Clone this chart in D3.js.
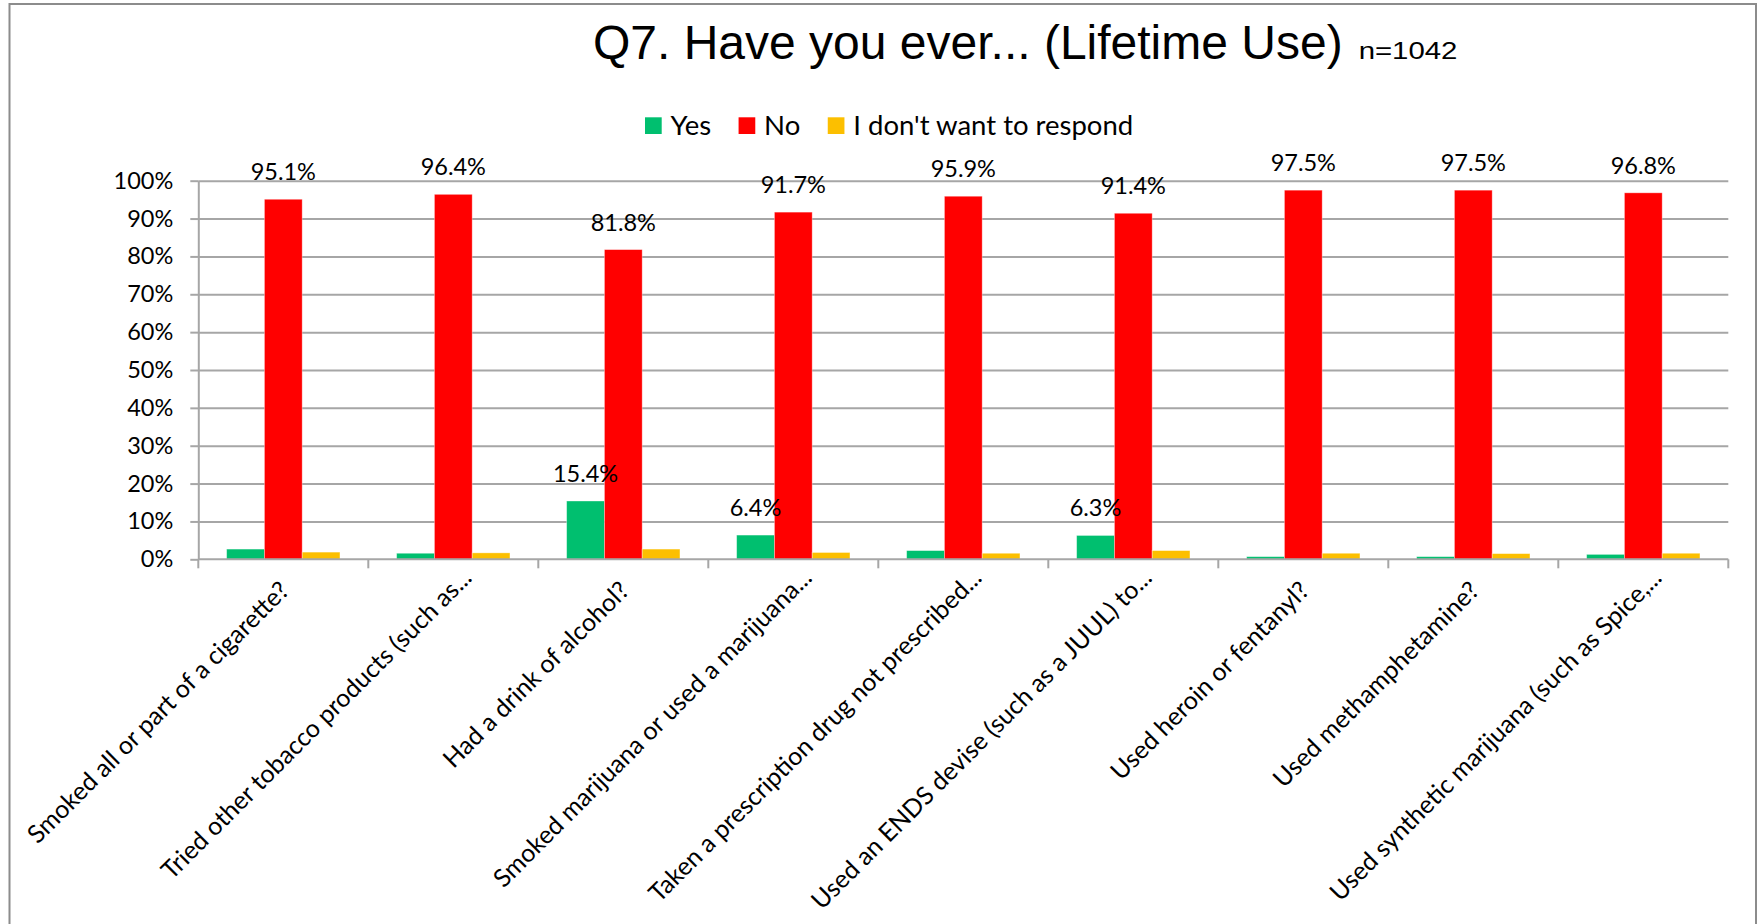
<!DOCTYPE html>
<html>
<head>
<meta charset="utf-8">
<script src="https://cdn.jsdelivr.net/npm/d3@7"></script>
<style>
  html, body { margin: 0; padding: 0; background: #ffffff; }
  svg { display: block; }
</style>
</head>
<body>
<svg id="chart" width="1758" height="924"></svg>
<script>
// Survey question categories (x axis)
const categories = [
  "Smoked all or part of a cigarette?",
  "Tried other tobacco products (such as...",
  "Had a drink of alcohol?",
  "Smoked marijuana or used a marijuana...",
  "Taken a prescription drug not prescribed...",
  "Used an ENDS devise (such as a JUUL) to...",
  "Used heroin or fentanyl?",
  "Used methamphetamine?",
  "Used synthetic marijuana (such as Spice,..."
];

// Response series, in percent
const seriesNames = ["Yes", "No", "I don't want to respond"];
const yesValues     = [2.7, 1.6, 15.4, 6.4, 2.3, 6.3, 0.7, 0.7, 1.3];
const noValues      = [95.1, 96.4, 81.8, 91.7, 95.9, 91.4, 97.5, 97.5, 96.8];
const declineValues = [1.9, 1.7, 2.7, 1.8, 1.6, 2.3, 1.6, 1.5, 1.6];

// Which bars carry a value label
const yesLabelled     = [false, false, true, true, false, true, false, false, false];
const noLabelled      = [true, true, true, true, true, true, true, true, true];
const declineLabelled = [false, false, false, false, false, false, false, false, false];

const yTickValues = [0, 10, 20, 30, 40, 50, 60, 70, 80, 90, 100];

const titleText = "Q7. Have you ever... (Lifetime Use)";
const subtitleText = "n=1042";

const seriesColors = ["#00bf6f", "#ff0000", "#fcbf00"];
const seriesValues = [yesValues, noValues, declineValues];
const seriesLabelled = [yesLabelled, noLabelled, declineLabelled];

const svg = d3.select("#chart");
const W = 1758, H = 924;
const plot = { left: 198.3, right: 1728.3, top: 180.7, bottom: 559.3 };

const bodyFont = "Lato, 'Open Sans', sans-serif";
const titleFont = "'Liberation Sans', Arial, sans-serif";
const gridColor = "#a6a6a6";

// Outer chart frame
svg.append("rect")
  .attr("x", 9.5).attr("y", 4)
  .attr("width", 1746.5).attr("height", H + 20)
  .attr("fill", "none")
  .attr("stroke", "#8c8c8c")
  .attr("stroke-width", 2);

// Scales
const x0 = d3.scaleBand().domain(categories).range([plot.left, plot.right]).paddingInner(0).paddingOuter(0);
const x1 = d3.scaleBand().domain(seriesNames).range([0, x0.bandwidth()]).paddingInner(0).paddingOuter(0.75);
const y = d3.scaleLinear().domain([0, 100]).range([plot.bottom, plot.top]);

// Horizontal gridlines
const grid = svg.append("g")
  .attr("transform", `translate(${plot.left},0)`)
  .call(d3.axisLeft(y).tickValues(yTickValues.filter(v => v > 0)).tickSize(-(plot.right - plot.left)).tickFormat(""));
grid.select(".domain").remove();
grid.selectAll("line").attr("stroke", gridColor).attr("stroke-width", 2);

// Y axis with percent labels
const yAxis = svg.append("g")
  .attr("transform", `translate(${plot.left},0)`)
  .call(d3.axisLeft(y).tickValues(yTickValues).tickSize(8).tickSizeOuter(0).tickPadding(17).tickFormat(d => d + "%"));
yAxis.select(".domain").attr("stroke", gridColor).attr("stroke-width", 2);
yAxis.selectAll(".tick line").attr("stroke", gridColor).attr("stroke-width", 2);
yAxis.selectAll(".tick text")
  .attr("fill", "#000")
  .style("font-family", bodyFont)
  .style("font-size", "23.5px");

// Bars
const rows = categories.map((c, i) => ({
  category: c,
  items: seriesNames.map((s, k) => ({ series: s, value: seriesValues[k][i], color: seriesColors[k], labelled: seriesLabelled[k][i] }))
}));

const groups = svg.append("g").selectAll("g")
  .data(rows)
  .join("g")
  .attr("transform", d => `translate(${x0(d.category)},0)`);

groups.selectAll("rect")
  .data(d => d.items)
  .join("rect")
  .attr("x", d => x1(d.series))
  .attr("y", d => y(d.value))
  .attr("width", x1.bandwidth())
  .attr("height", d => y(0) - y(d.value))
  .attr("fill", d => d.color)
  .attr("stroke", "#ffffff")
  .attr("stroke-opacity", 0.45)
  .attr("stroke-width", 0.8);

// X axis line and category boundary ticks
const xAxis = svg.append("g");
xAxis.append("line")
  .attr("x1", plot.left).attr("x2", plot.right)
  .attr("y1", y(0)).attr("y2", y(0))
  .attr("stroke", gridColor).attr("stroke-width", 2);
const boundaries = categories.map(c => x0(c)).concat([x0.range()[1]]);
xAxis.selectAll("line.tick")
  .data(boundaries)
  .join("line")
  .attr("class", "tick")
  .attr("x1", d => d).attr("x2", d => d)
  .attr("y1", y(0)).attr("y2", y(0) + 9)
  .attr("stroke", gridColor).attr("stroke-width", 2);

// Rotated category labels; complete questions sit a little further from the axis
// than the ones cut short with an ellipsis
xAxis.selectAll("text")
  .data(categories)
  .join("text")
  .attr("transform", d => `translate(${x0(d) + x0.bandwidth() / 2 + 20},${y(0) + 20}) rotate(-45)`)
  .attr("dx", d => d.endsWith("...") ? 0 : -18)
  .attr("text-anchor", "end")
  .attr("fill", "#000")
  .style("font-family", bodyFont)
  .style("font-size", "25px")
  .text(d => d);

// Value labels above bars
const fmt = d3.format(".1f");
groups.selectAll("text")
  .data(d => d.items.filter(it => it.labelled))
  .join("text")
  .attr("x", d => x1(d.series) + x1.bandwidth() / 2)
  .attr("y", d => y(d.value) - 19)
  .attr("text-anchor", "middle")
  .attr("fill", "#000")
  .style("font-family", bodyFont)
  .style("font-size", "23.5px")
  .text(d => fmt(d.value) + "%");

// Title
const title = svg.append("text")
  .attr("x", 593).attr("y", 59)
  .attr("fill", "#000")
  .style("font-family", titleFont)
  .style("font-size", "48px")
  .text(titleText);
const titleEnd = 593 + title.node().getComputedTextLength();
svg.append("text")
  .attr("transform", `translate(${titleEnd + 16},59) scale(1.25,1)`)
  .attr("fill", "#000")
  .style("font-family", titleFont)
  .style("font-size", "23.5px")
  .text(subtitleText);

// Legend
const legend = svg.append("g").attr("transform", "translate(645,117.3)");
let lx = 0;
seriesNames.forEach((name, k) => {
  const item = legend.append("g").attr("transform", `translate(${lx},0)`);
  item.append("rect").attr("width", 16.7).attr("height", 16.7).attr("fill", seriesColors[k]);
  const t = item.append("text")
    .attr("x", 25.5).attr("y", 17.4)
    .attr("fill", "#000")
    .style("font-family", bodyFont)
    .style("font-size", "27.5px")
    .text(name);
  lx += 25.5 + t.node().getComputedTextLength() + 27.5;
});
</script>
</body>
</html>
